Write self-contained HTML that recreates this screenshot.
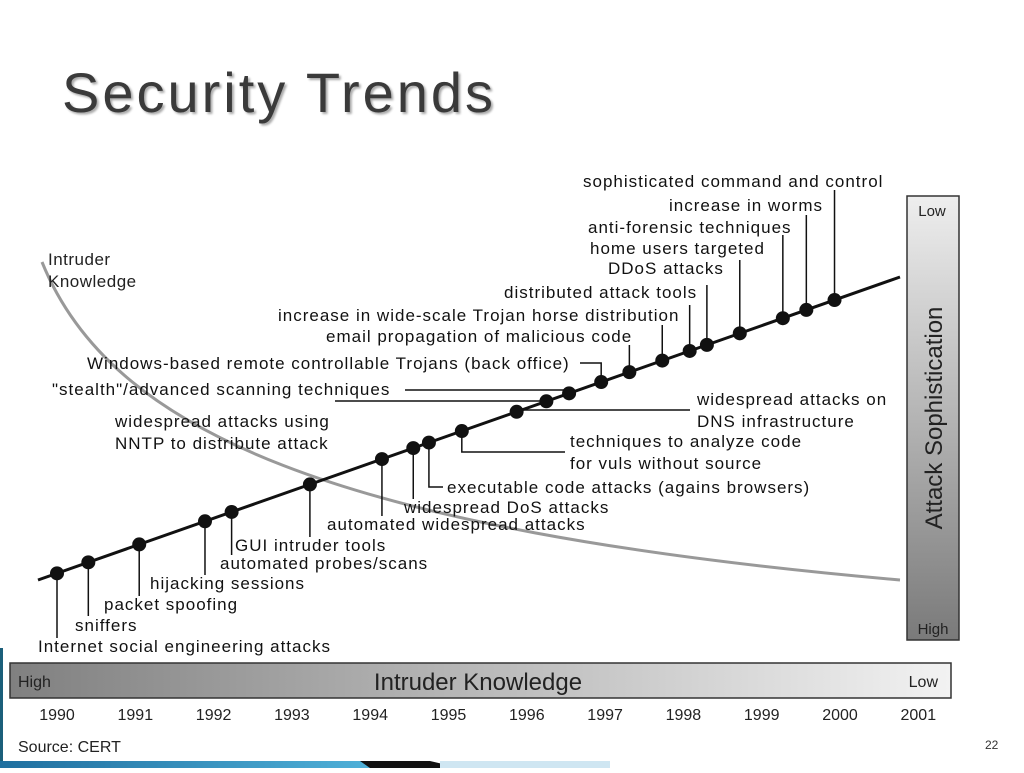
<!DOCTYPE html>
<html><head><meta charset="utf-8"><style>
html,body{margin:0;padding:0;background:#fff;}
body{width:1024px;height:768px;overflow:hidden;position:relative;font-family:"Liberation Sans",sans-serif;}
svg text{font-family:"Liberation Sans",sans-serif;}
</style></head><body>
<svg width="1024" height="768" viewBox="0 0 1024 768">
<defs>
<linearGradient id="vg" x1="0" y1="0" x2="0" y2="1"><stop offset="0" stop-color="#eeeeee"/><stop offset="1" stop-color="#7a7a7a"/></linearGradient>
<linearGradient id="hg" x1="0" y1="0" x2="1" y2="0"><stop offset="0" stop-color="#808080"/><stop offset="1" stop-color="#f2f2f2"/></linearGradient>
<linearGradient id="bb" x1="0" y1="0" x2="1" y2="0"><stop offset="0" stop-color="#1f6f9f"/><stop offset="1" stop-color="#4fb0d8"/></linearGradient>
</defs>
<text x="62" y="112" font-size="56" letter-spacing="3" fill="#3a3a3a" style="text-shadow:2px 2px 2px #aaa">Security Trends</text>
<path d="M42,262 C110,430 330,530 900,580" fill="none" stroke="#999" stroke-width="3"/>
<text x="48" y="265" font-size="17" letter-spacing="0.5" fill="#222">Intruder</text>
<text x="48" y="287" font-size="17" letter-spacing="0.5" fill="#222">Knowledge</text>
<g id="chart"></g>
<rect x="907" y="196" width="52" height="444" fill="url(#vg)" stroke="#333" stroke-width="1.5"/>
<text x="932" y="216" font-size="15" text-anchor="middle" fill="#222">Low</text>
<text x="933" y="634" font-size="15" text-anchor="middle" fill="#222">High</text>
<text transform="translate(942,418) rotate(-90)" font-size="24" text-anchor="middle" fill="#222">Attack Sophistication</text>
<rect x="10" y="663" width="941" height="35" fill="url(#hg)" stroke="#333" stroke-width="1.5"/>
<text x="18" y="687" font-size="16" fill="#222">High</text>
<text x="478" y="690" font-size="24" text-anchor="middle" fill="#222">Intruder Knowledge</text>
<text x="938" y="687" font-size="16" text-anchor="end" fill="#222">Low</text>
<g id="years"></g>
<text x="18" y="752" font-size="16" fill="#222">Source: CERT</text>
<text x="985" y="749" font-size="12" fill="#333" font-family="Liberation Serif">22</text>
<rect x="0" y="648" width="3" height="120" fill="#1b5f7a"/>
<rect x="0" y="761" width="370" height="7" fill="url(#bb)"/>
<polygon points="360,761 430,761 460,768 370,768" fill="#111"/>
<rect x="440" y="761" width="170" height="7" fill="#cfe6f2"/>
</svg>
<script>
const yearTicks=[1990,1991,1992,1993,1994,1995,1996,1997,1998,1999,2000,2001];
const eventYears=[1990.0,1990.4,1991.05,1991.89,1992.23,1993.23,1994.15,1994.55,1994.75,1995.17,1995.87,1996.25,1996.54,1996.95,1997.31,1997.73,1998.08,1998.3,1998.72,1999.27,1999.57,1999.93];
const eventLabels=[["Internet social engineering attacks"],["sniffers"],["packet spoofing"],["hijacking sessions"],["automated probes/scans"],["GUI intruder tools"],["automated widespread attacks"],["widespread DoS attacks"],["executable code attacks (agains browsers)"],["techniques to analyze code","for vuls without source"],["widespread attacks on","DNS infrastructure"],["widespread attacks using","NNTP to distribute attack"],["\"stealth\"/advanced scanning techniques"],["Windows-based remote controllable Trojans (back office)"],["email propagation of malicious code"],["increase in wide-scale Trojan horse distribution"],["distributed attack tools"],["DDoS attacks"],["home users targeted"],["anti-forensic techniques"],["increase in worms"],["sophisticated command and control"]];
// layout: text x, text baseline y, leader end y, leader horizontal end x (null = none)
const layout=[[38,652,638,null],[75,631,616,null],[104,610,596,null],[150,589,575,null],[220,569,555,null],[235,551,537,null],[327,530,516,null],[404,513,499,null],[447,493,487,443],[570,447,452,565],[697,405,410,690],[115,427,401,335],[52,395,390,405],[87,369,363,580],[326,342,345,null],[278,321,325,null],[504,298,305,null],[608,274,285,null],[590,254,260,null],[588,233,235,null],[669,211,215,null],[583,187,190,null]];
const NS="http://www.w3.org/2000/svg";
const x0=57,dx=78.3;
function xScale(yr){return x0+(yr-1990)*dx;}
function yLine(x){return 580-0.3515*(x-38);}
const g=document.getElementById('chart');
const tl=document.createElementNS(NS,'line');
tl.setAttribute('x1',38);tl.setAttribute('y1',yLine(38));tl.setAttribute('x2',900);tl.setAttribute('y2',yLine(900));
tl.setAttribute('stroke','#111');tl.setAttribute('stroke-width','3');


g.appendChild(tl);
eventYears.forEach((yr,i)=>{
  const x=xScale(yr),y=yLine(x),L=layout[i];
  let d='M'+x+','+y+' L'+x+','+L[2];
  if(L[3]!==null)d+=' L'+L[3]+','+L[2];
  const p=document.createElementNS(NS,'path');
  p.setAttribute('d',d);p.setAttribute('fill','none');p.setAttribute('stroke','#111');p.setAttribute('stroke-width','1.5');
  
  
  g.appendChild(p);
  const c=document.createElementNS(NS,'circle');
  c.setAttribute('cx',x);c.setAttribute('cy',y);c.setAttribute('r',7);c.setAttribute('fill','#111');
  
  
  g.appendChild(c);
  eventLabels[i].forEach((s,j)=>{
    const t=document.createElementNS(NS,'text');
    t.setAttribute('x',L[0]);t.setAttribute('y',L[1]+j*22);t.setAttribute('font-size','17');t.setAttribute('letter-spacing','1');t.setAttribute('fill','#111');
    t.textContent=s;
    
    
    g.appendChild(t);
  });
});
const yg=document.getElementById('years');
yearTicks.forEach(yr=>{
  const t=document.createElementNS(NS,'text');
  t.setAttribute('x',xScale(yr));t.setAttribute('y',720);t.setAttribute('font-size','16');t.setAttribute('text-anchor','middle');t.setAttribute('fill','#222');
  t.textContent=yr;
  
  
  yg.appendChild(t);
});
</script>
</body></html>
